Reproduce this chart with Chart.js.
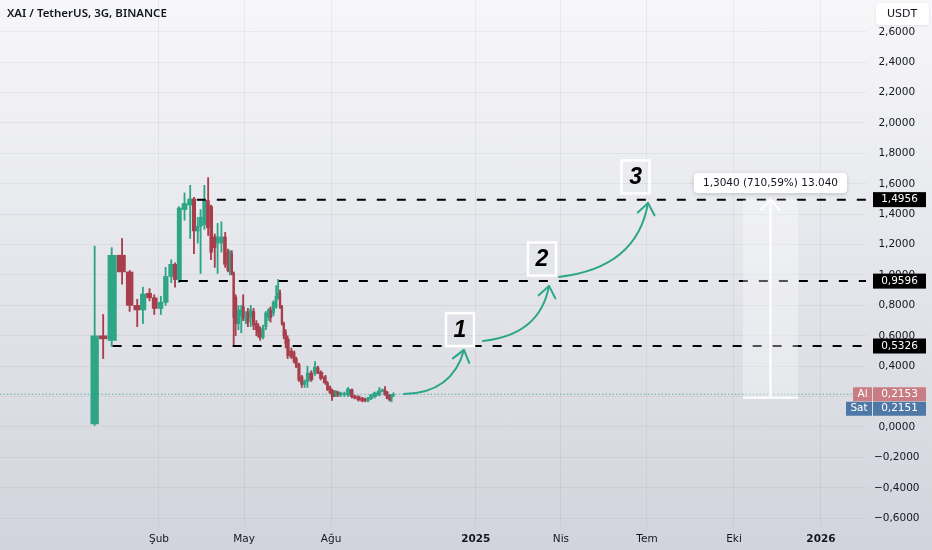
<!DOCTYPE html>
<html>
<head>
<meta charset="utf-8">
<title>XAI / TetherUS, 3G, BINANCE</title>
<script src="https://cdn.jsdelivr.net/npm/chart.js@4.4.1/dist/chart.umd.min.js"></script>
<style>
    html, body { margin: 0; padding: 0; }
    body {
        width: 932px;
        height: 550px;
        overflow: hidden;
        background: linear-gradient(#f7f7f9, #d1d4dc);
    }
    #wrap { position: relative; width: 932px; height: 550px; }
</style>
</head>
<body>
<div id="wrap"><canvas id="priceChart"></canvas></div>
<script>
// candle dates, days counted from 2024-01-01
const candleDays = [-37, -28, -19, -8, 0, 8, 14, 21, 26, 33, 38, 44, 48, 52, 58, 64, 68, 72, 75, 79,
    83, 86, 90, 93, 97, 101, 104, 106, 108, 110, 112, 115, 118, 120, 123, 125, 128, 131, 134, 136,
    138, 141, 144, 147, 149, 152, 155, 157, 159, 161, 163, 165, 167, 171, 174, 176, 179, 182, 185, 188,
    192, 196, 199, 202, 207, 209, 212, 214, 216, 218, 220, 223, 227, 231, 235, 238, 242, 246, 249, 252,
    255, 259, 264, 267, 270, 272, 275, 277, 279];
const openPrices = [0.02, 0.60, 0.57, 1.13, 1.02, 0.80, 0.77, 0.88, 0.85, 0.78, 0.82, 0.99, 1.07, 0.97, 1.43, 1.46, 1.50, 1.29, 1.32, 1.33,
    1.49, 1.45, 1.25, 1.21, 1.21, 1.25, 1.15, 1.03, 1.14, 1.01, 0.855, 0.68, 0.73, 0.79, 0.70, 0.75, 0.72, 0.76, 0.68, 0.66,
    0.64, 0.59, 0.66, 0.72, 0.77, 0.75, 0.79, 0.85, 0.88, 0.79, 0.68, 0.62, 0.58, 0.50, 0.49, 0.45, 0.41, 0.33, 0.28, 0.30,
    0.355, 0.355, 0.39, 0.36, 0.33, 0.29, 0.26, 0.245, 0.23, 0.21, 0.23, 0.21, 0.215, 0.21, 0.245, 0.205, 0.20, 0.19, 0.185, 0.172,
    0.185, 0.20, 0.21, 0.235, 0.245, 0.23, 0.21, 0.19, 0.205];
const highPrices = [1.19, 0.74, 1.18, 1.24, 1.03, 0.84, 0.92, 0.91, 0.87, 0.86, 1.05, 1.10, 1.08, 1.45, 1.54, 1.59, 1.51, 1.38, 1.43, 1.59,
    1.64, 1.46, 1.27, 1.34, 1.35, 1.28, 1.17, 1.16, 1.16, 1.02, 0.87, 0.80, 0.80, 0.87, 0.76, 0.78, 0.80, 0.78, 0.70, 0.68,
    0.66, 0.67, 0.76, 0.78, 0.79, 0.83, 0.93, 0.97, 0.90, 0.80, 0.69, 0.64, 0.60, 0.52, 0.50, 0.46, 0.42, 0.34, 0.31, 0.40,
    0.37, 0.43, 0.40, 0.37, 0.34, 0.30, 0.27, 0.25, 0.24, 0.24, 0.235, 0.23, 0.23, 0.26, 0.25, 0.21, 0.205, 0.195, 0.19, 0.195,
    0.215, 0.23, 0.26, 0.25, 0.265, 0.235, 0.215, 0.215, 0.225];
const lowPrices = [0.01, 0.45, 0.53, 0.94, 0.76, 0.66, 0.68, 0.83, 0.74, 0.74, 0.80, 0.95, 0.92, 0.95, 1.36, 1.24, 1.14, 1.21, 1.01, 1.30,
    1.26, 1.10, 1.05, 1.01, 1.15, 1.05, 1.02, 1.00, 1.00, 0.54, 0.60, 0.64, 0.62, 0.70, 0.68, 0.66, 0.66, 0.64, 0.60, 0.59,
    0.57, 0.58, 0.64, 0.70, 0.69, 0.73, 0.78, 0.84, 0.78, 0.67, 0.58, 0.52, 0.45, 0.45, 0.42, 0.39, 0.30, 0.26, 0.26, 0.26,
    0.30, 0.34, 0.35, 0.31, 0.28, 0.24, 0.22, 0.175, 0.20, 0.20, 0.20, 0.20, 0.20, 0.20, 0.19, 0.185, 0.17, 0.165, 0.165, 0.165,
    0.18, 0.19, 0.205, 0.23, 0.21, 0.185, 0.17, 0.165, 0.20];
const closePrices = [0.60, 0.58, 1.13, 1.02, 0.80, 0.77, 0.875, 0.85, 0.78, 0.82, 0.99, 1.07, 0.97, 1.44, 1.47, 1.50, 1.29, 1.32, 1.38, 1.49,
    1.31, 1.15, 1.18, 1.25, 1.25, 1.07, 1.03, 1.15, 1.01, 0.72, 0.68, 0.77, 0.77, 0.72, 0.72, 0.69, 0.77, 0.67, 0.64, 0.62,
    0.59, 0.65, 0.75, 0.77, 0.72, 0.82, 0.86, 0.88, 0.79, 0.68, 0.60, 0.55, 0.47, 0.46, 0.43, 0.40, 0.31, 0.28, 0.30, 0.355,
    0.31, 0.395, 0.355, 0.32, 0.29, 0.245, 0.225, 0.20, 0.21, 0.23, 0.21, 0.224, 0.22, 0.25, 0.20, 0.19, 0.178, 0.172, 0.172, 0.19,
    0.21, 0.224, 0.237, 0.245, 0.211, 0.19, 0.178, 0.21, 0.2153];

const yTickValues = [-0.6, -0.4, -0.2, 0, 0.2, 0.4, 0.6, 0.8, 1.0, 1.2, 1.4, 1.6, 1.8, 2.0, 2.2, 2.4, 2.6];
const xTickDays = [31, 121, 213, 366, 456, 547, 639, 731];
const xTickLabels = ['Şub', 'May', 'Ağu', '2025', 'Nis', 'Tem', 'Eki', '2026'];

// horizontal levels drawn on the chart
const levelPrices = [0.5326, 0.9596, 1.4956];
const levelStartDays = [-18, 52, 71];
const askPrice = 0.2153;
const bidPrice = 0.2151;

// drawing tools: curved arrows [start, control, end] as [day, price]
const arrowPaths = [
    [[290, 0.217], [341, 0.224], [353.5, 0.507]],
    [[373.6, 0.566], [433.9, 0.605], [443.4, 0.928]],
    [[454, 0.987], [536.4, 1.046], [548.1, 1.474]]
];
const stepLabels = ['1', '2', '3'];
const stepDays = [349.3, 436, 534.9];
const stepPrices = [0.641, 1.105, 1.645];

// price range measure
const measureDays = [648.5, 706.7];
const measureFrom = 0.1916;
const measureTo = 1.4956;
const measureLabelPrice = 1.605;
const measureText = '1,3040 (710,59%) 13.040';

const xMin = -137.1;
const xMax = 778.6;
const yMin = -0.658;
const yMax = 2.809;

const upColor = '#2da586';
const downColor = '#a83e4c';
const gridColor = 'rgba(42, 46, 57, 0.06)';
const textColor = '#131722';
const arrowColor = '#2ba68a';

function formatPrice(v) {
    const s = Math.abs(v).toFixed(4).replace('.', ',');
    return v < -1e-9 ? '\u2212' + s : s;
}

const candleColors = openPrices.map((o, i) => closePrices[i] >= o ? upColor : downColor);
const wickData = candleDays.map((d, i) => ({ x: d, y: [lowPrices[i], highPrices[i]] }));
const bodyData = candleDays.map((d, i) => ({
    x: d,
    y: [Math.min(openPrices[i], closePrices[i]), Math.max(openPrices[i], closePrices[i])]
}));

const levelDatasets = levelPrices.map((p, i) => ({
    type: 'line',
    data: [{ x: levelStartDays[i], y: p }, { x: xMax, y: p }],
    borderColor: '#000000',
    borderWidth: 2,
    borderDash: [9, 11],
    pointRadius: 0,
    order: 0
}));

const overlayPlugin = {
    id: 'overlay',
    afterDraw(chart) {
        const { ctx, scales: { x, y } } = chart;
        const X = d => x.getPixelForValue(d);
        const Y = p => y.getPixelForValue(p);
        ctx.save();

        // measure tool
        const mx0 = X(measureDays[0]);
        const mx1 = X(measureDays[1]);
        const mxc = (mx0 + mx1) / 2;
        const myTop = Y(measureTo);
        const myBot = Y(measureFrom);
        ctx.fillStyle = 'rgba(255, 255, 255, 0.32)';
        ctx.fillRect(mx0, myTop, mx1 - mx0, myBot - myTop);
        ctx.strokeStyle = '#ffffff';
        ctx.lineWidth = 2;
        ctx.beginPath();
        ctx.moveTo(mx0, myBot);
        ctx.lineTo(mx1, myBot);
        ctx.moveTo(mxc, myBot);
        ctx.lineTo(mxc, myTop);
        ctx.moveTo(mxc - 10, myTop + 11);
        ctx.lineTo(mxc, myTop);
        ctx.lineTo(mxc + 10, myTop + 11);
        ctx.stroke();

        ctx.font = '10.5px "DejaVu Sans"';
        const tw = ctx.measureText(measureText).width;
        const ly = Y(measureLabelPrice);
        ctx.shadowColor = 'rgba(0, 0, 0, 0.18)';
        ctx.shadowBlur = 4;
        ctx.shadowOffsetY = 1;
        ctx.fillStyle = '#ffffff';
        ctx.beginPath();
        ctx.roundRect(mxc - tw / 2 - 9, ly - 10, tw + 18, 20, 4);
        ctx.fill();
        ctx.shadowColor = 'transparent';
        ctx.fillStyle = textColor;
        ctx.textAlign = 'center';
        ctx.textBaseline = 'middle';
        ctx.fillText(measureText, mxc, ly);

        // curved arrows
        ctx.strokeStyle = arrowColor;
        ctx.lineWidth = 2;
        ctx.lineCap = 'round';
        arrowPaths.forEach(path => {
            const [p0, c, p1] = path.map(([d, p]) => [X(d), Y(p)]);
            ctx.beginPath();
            ctx.moveTo(p0[0], p0[1]);
            ctx.quadraticCurveTo(c[0], c[1], p1[0], p1[1]);
            ctx.stroke();
            const ang = Math.atan2(p1[1] - c[1], p1[0] - c[0]);
            ctx.beginPath();
            [-1, 1].forEach(s => {
                const a = ang + Math.PI + s * 0.65;
                ctx.moveTo(p1[0] + Math.cos(a) * 14, p1[1] + Math.sin(a) * 14);
                ctx.lineTo(p1[0], p1[1]);
            });
            ctx.stroke();
        });

        // numbered boxes
        ctx.font = 'italic bold 23px "Liberation Sans"';
        stepLabels.forEach((t, i) => {
            const cx = X(stepDays[i]);
            const cy = Y(stepPrices[i]);
            ctx.strokeStyle = '#ffffff';
            ctx.lineWidth = 2.5;
            ctx.strokeRect(cx - 14, cy - 16.5, 28, 33);
            ctx.fillStyle = '#000000';
            ctx.fillText(t, cx, cy + 1);
        });

        // price tags on the axis
        const tagX = y.left + 7;
        const tagW = 53;
        ctx.font = '10.5px "DejaVu Sans"';
        levelPrices.forEach(p => {
            const ty = Y(p);
            ctx.fillStyle = '#000000';
            ctx.fillRect(tagX, ty - 7.5, tagW, 15);
            ctx.fillStyle = '#ffffff';
            ctx.fillText(formatPrice(p), tagX + tagW / 2, ty);
        });

        const askY = Y(askPrice);
        ctx.fillStyle = '#c97c83';
        ctx.fillRect(tagX - 20, askY - 7, 19, 14);
        ctx.fillRect(tagX, askY - 7, tagW, 14);
        ctx.fillStyle = '#4e79a7';
        ctx.fillRect(tagX - 27, askY + 7.5, 26, 14);
        ctx.fillRect(tagX, askY + 7.5, tagW, 14);
        ctx.fillStyle = '#ffffff';
        ctx.fillText('Al', tagX - 10.5, askY);
        ctx.fillText(formatPrice(askPrice), tagX + tagW / 2, askY);
        ctx.fillText('Sat', tagX - 14, askY + 14.5);
        ctx.fillText(formatPrice(bidPrice), tagX + tagW / 2, askY + 14.5);

        // currency box
        ctx.shadowColor = 'rgba(0, 0, 0, 0.08)';
        ctx.shadowBlur = 3;
        ctx.fillStyle = '#ffffff';
        ctx.beginPath();
        ctx.roundRect(876, 3, 53, 22, 4);
        ctx.fill();
        ctx.shadowColor = 'transparent';
        ctx.fillStyle = textColor;
        ctx.font = '11px "DejaVu Sans"';
        ctx.fillText('USDT', 902, 14.5);

        // symbol title
        ctx.textAlign = 'left';
        ctx.font = '600 11.5px "Noto Sans"';
        ctx.fillText('XAI / TetherUS, 3G, BINANCE', 7, 14);
        ctx.restore();
    }
};

const chart = new Chart(document.getElementById('priceChart'), {
    type: 'bar',
    data: {
        datasets: [
            ...levelDatasets,
            {
                type: 'line',
                data: [{ x: xMin, y: askPrice }, { x: xMax, y: askPrice }],
                borderColor: 'rgba(34, 150, 130, 0.65)',
                borderWidth: 1,
                borderDash: [1.5, 2],
                pointRadius: 0,
                order: 0
            },
            {
                label: 'Body',
                data: bodyData,
                backgroundColor: candleColors,
                barThickness: 'flex',
                categoryPercentage: 1,
                barPercentage: 0.9,
                grouped: true,
                order: 1
            },
            {
                label: 'Wick',
                data: wickData,
                backgroundColor: candleColors,
                barThickness: 1.2,
                grouped: false,
                order: 2
            }
        ]
    },
    options: {
        responsive: true,
        maintainAspectRatio: false,
        animation: false,
        events: [],
        layout: { padding: 0, autoPadding: false },
        plugins: {
            legend: { display: false },
            tooltip: { enabled: false },
            title: { display: false }
        },
        scales: {
            x: {
                type: 'linear',
                min: xMin,
                max: xMax,
                offset: false,
                afterFit: (scale) => {
                    scale.height = 23;
                    scale.paddingLeft = 0;
                    scale.paddingRight = 0;
                },
                afterBuildTicks: (scale) => { scale.ticks = xTickDays.map(v => ({ value: v })); },
                grid: { color: gridColor, drawTicks: false, offset: false },
                border: { display: false },
                ticks: {
                    autoSkip: false,
                    maxRotation: 0,
                    padding: 6,
                    color: textColor,
                    font: (c) => ({
                        family: 'DejaVu Sans',
                        size: 10.5,
                        weight: /^\d{4}$/.test(xTickLabels[c.index] || '') ? 'bold' : 'normal'
                    }),
                    callback: (value, index) => xTickLabels[index]
                }
            },
            y: {
                type: 'linear',
                position: 'right',
                min: yMin,
                max: yMax,
                stacked: false,
                afterFit: (scale) => {
                    scale.width = 66;
                    scale.paddingTop = 0;
                    scale.paddingBottom = 0;
                },
                afterBuildTicks: (scale) => { scale.ticks = yTickValues.map(v => ({ value: v })); },
                grid: { color: gridColor, drawTicks: false },
                border: { display: false },
                ticks: {
                    crossAlign: 'center',
                    padding: 8,
                    color: textColor,
                    font: { family: 'DejaVu Sans', size: 10.5 },
                    callback: (value) => formatPrice(value)
                }
            }
        }
    },
    plugins: [overlayPlugin]
});
</script>
</body>
</html>
